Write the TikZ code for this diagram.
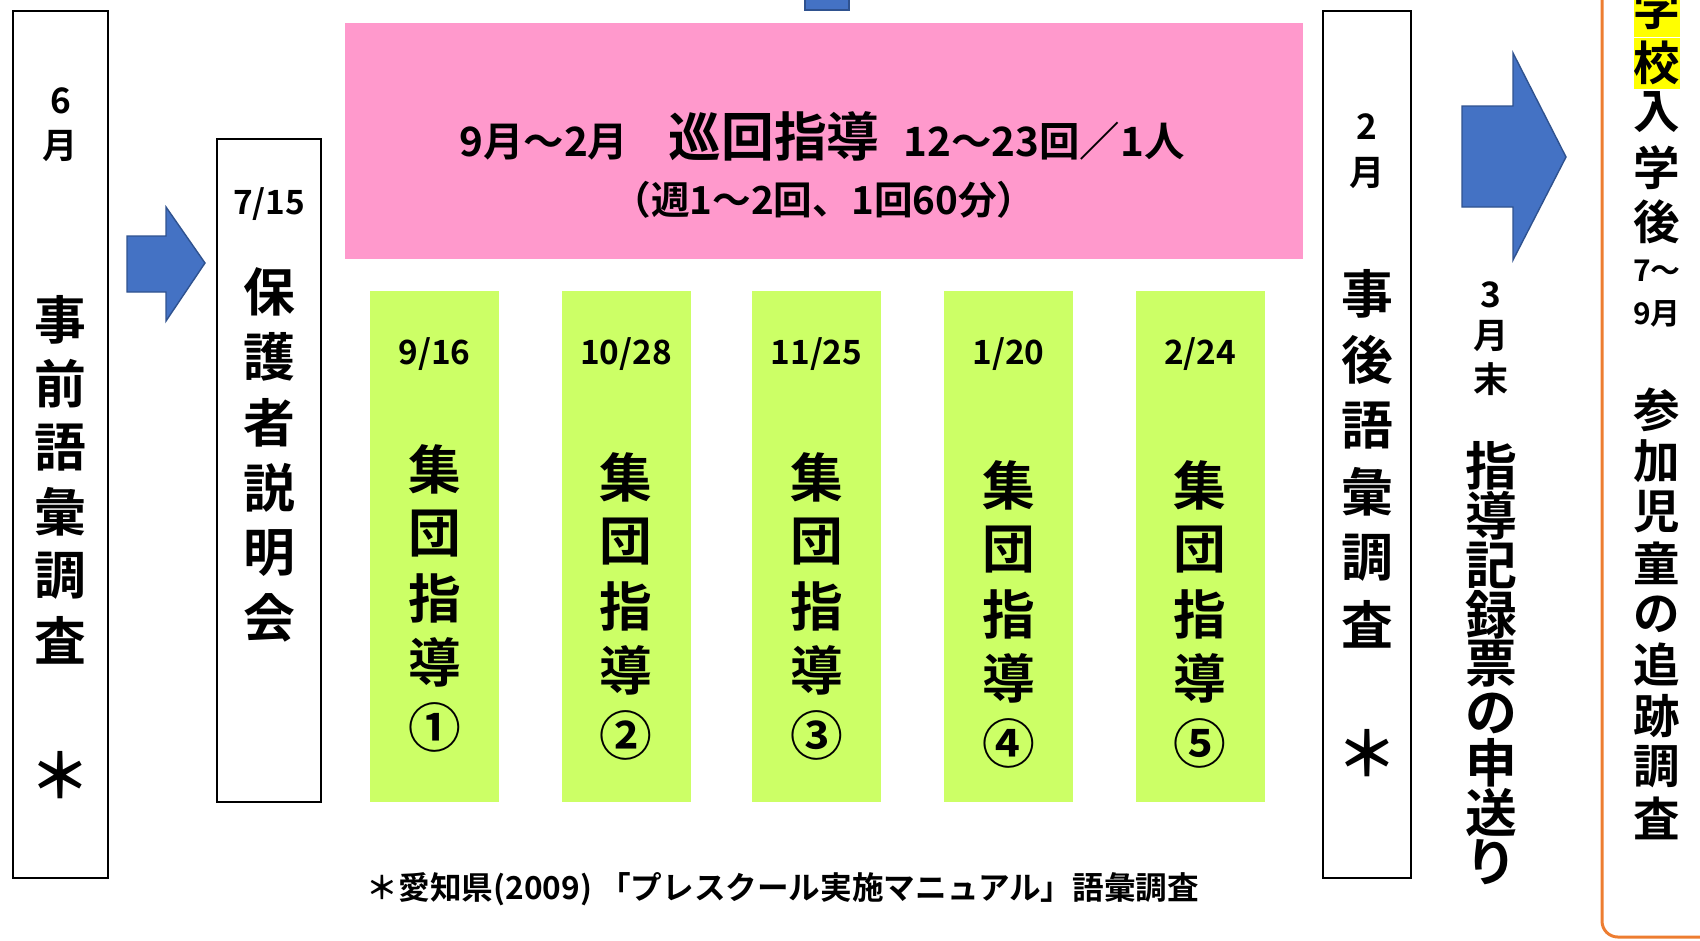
\documentclass[tikz,border=0pt]{standalone}
\usepackage{fontspec}
\setmainfont{Noto Sans CJK JP}[BoldFont={Noto Sans CJK JP Bold}]
\definecolor{pinkbg}{HTML}{FF99CC}
\definecolor{greenbg}{HTML}{CCFF66}
\definecolor{arrowfill}{HTML}{4472C4}
\definecolor{arrowedge}{HTML}{2F528F}
\definecolor{orangeedge}{HTML}{ED7D31}
\definecolor{hiyellow}{HTML}{FFFF00}

\begin{document}
\begin{tikzpicture}[x=0.02cm, y=0.02cm]
        \tikzstyle{every node}+=[inner sep=0pt]
        \tikzstyle{boxline}=[black, line width=1.1pt]
        \tikzstyle{arrowblue}=[fill=arrowfill, draw=arrowedge, line width=0.8pt]
        \tikzstyle{bigch}=[font=\fontsize{29.5}{30}\selectfont\bfseries]
        \tikzstyle{astch}=[font=\fontsize{35}{35}\selectfont\bfseries]
        \tikzstyle{grpch}=[font=\fontsize{30}{30}\selectfont\bfseries]
        \tikzstyle{smallch}=[font=\fontsize{20}{20}\selectfont\bfseries]
        \tikzstyle{datech}=[font=\fontsize{19}{19}\selectfont\bfseries]
        \tikzstyle{colch}=[font=\fontsize{26.5}{27}\selectfont\bfseries]
        \tikzstyle{colsmall}=[font=\fontsize{17}{17}\selectfont\bfseries]
        \useasboundingbox (0,0) rectangle (1700,-940);
        \clip (0,0) rectangle (1700,-940);
        % before survey
        \draw [boxline] (13,-11) rectangle (108,-878);
        \draw (60.5,-101) node (pre6) [smallch] {6};
        \draw (60.5,-146) node (premonth) [smallch] {月};
        \foreach \c [count=\i from 0] in {事,前,語,彙,調,査}
          \draw (60.5,-320-64*\i) node (pre\i) [bigch] {\c};
        \draw (60.5,-775) node (preast) [astch] {＊};
        \filldraw [arrowblue] (127,-236) -- (166,-236) -- (166,-207) -- (205,-263)
          -- (166,-321) -- (166,-292) -- (127,-292) -- cycle;
        % parents meeting
        \draw [boxline] (217,-139) rectangle (321,-802);
        \draw (269,-204) node (mtgdate) [datech] {7/15};
        \foreach \c [count=\i from 0] in {保,護,者,説,明,会}
          \draw (269,-292-65.2*\i) node (mtg\i) [bigch] {\c};
        % visiting guidance
        \filldraw [arrowblue] (805,5) rectangle (849,-10);
        \fill [pinkbg] (345,-23) rectangle (1303,-259);
        \draw (822,-136) node (tour) {\fontsize{23}{24}\selectfont\bfseries 9月～2月\quad
          {\fontsize{30}{30}\selectfont 巡回指導}\hspace{0.6em}12～23回／1人};
        \draw (824,-200) node (tourfreq) [font=\fontsize{22}{22}\selectfont\bfseries] {（週1～2回、1回60分）};
        % group sessions
        \foreach \x/\mo/\dy/\n/\s [count=\k] in {434.5/9/16/①/469, 626/10/28/②/477,
            816.5/11/25/③/477, 1008.5/1/20/④/485, 1200/2/24/⑤/485} {
          \fill [greenbg] (\x-64.5,-291) rectangle (\x+64.5,-802);
          \draw (\x,-354) node (grp\k date) [datech] {\mo/\dy};
          \foreach \c [count=\j from 0] in {集,団,指,導}
            \draw (\x,-\s-64.5*\j) node (grp\k-\j) [grpch] {\c};
          \draw (\x,-\s-258) node (grp\k num) [grpch] {\n};
        }
        % after survey
        \draw [boxline] (1323,-11) rectangle (1411,-878);
        \draw (1367,-127) node (post2) [smallch] {2};
        \draw (1367,-173) node (postmonth) [smallch] {月};
        \foreach \c [count=\i from 0] in {事,後,語,彙,調,査}
          \draw (1367,-294-66*\i) node (post\i) [bigch] {\c};
        \draw (1367,-753) node (postast) [astch] {＊};
        % handover
        \filldraw [arrowblue] (1462,-106) -- (1513,-106) -- (1513,-53) -- (1566,-157)
          -- (1513,-260) -- (1513,-207) -- (1462,-207) -- cycle;
        \foreach \c/\y [count=\i] in {3/295, 月/336, 末/379}
          \draw (1491,-\y) node (hand\i) [smallch] {\c};
        \foreach \c [count=\i from 0] in {指,導,記,録,票,の,申,送,り}
          \draw (1491,-466-49.5*\i) node (rec\i) [bigch] {\c};
        % follow-up
        \draw [orangeedge, line width=1.7pt, rounded corners=9pt] (1602,30) rectangle (1780,-937);
        \fill [hiyellow] (1634,5) rectangle (1680,-37);
        \fill [hiyellow] (1634,-38) rectangle (1680,-89);
        \foreach \c/\y [count=\i] in {学/8, 校/63, 入/112, 学/168, 後/222}
          \draw (1657,-\y) node (fol\i) [colch] {\c};
        \draw (1657,-271) node (folmon1) [colsmall] {7～};
        \draw (1657,-314) node (folmon2) [colsmall] {9月};
        \foreach \c [count=\i from 0] in {参,加,児,童,の,追,跡,調,査}
          \draw (1657,-410-51*\i) node (tr\i) [colch] {\c};
        % note
        \draw (783,-889) node (note) [font=\fontsize{18}{18}\selectfont\bfseries] {＊愛知県(2009) 「プレスクール実施マニュアル」語彙調査};
\end{tikzpicture}
\end{document}
